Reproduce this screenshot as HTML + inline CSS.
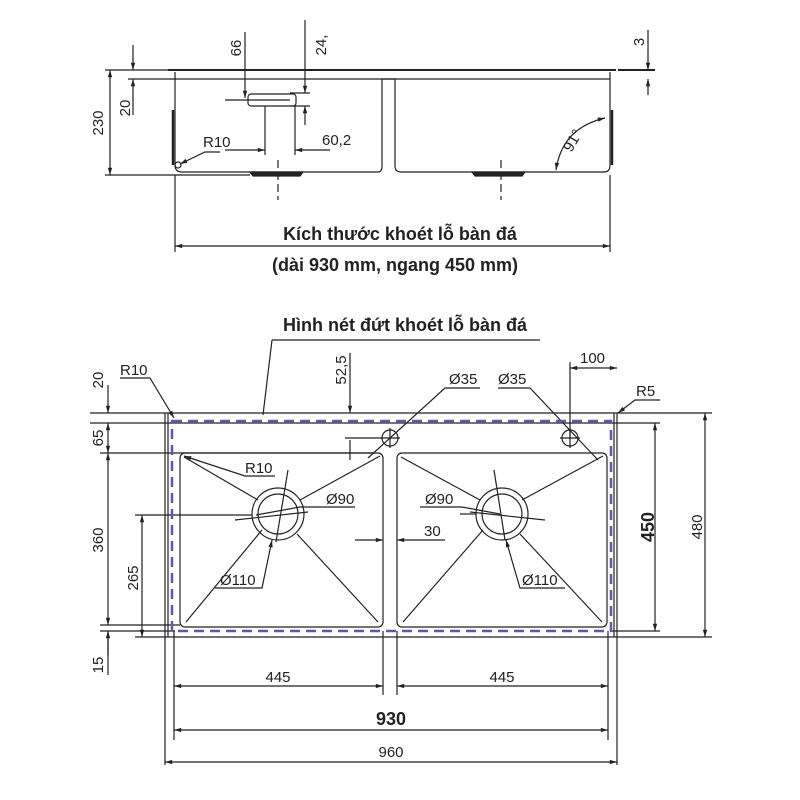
<!DOCTYPE html>
<html><head><meta charset="utf-8"><style>
html,body{margin:0;padding:0;background:#fff;}
svg{display:block;font-family:"Liberation Sans",sans-serif;}
</style></head><body>
<svg width="800" height="800" viewBox="0 0 800 800" xmlns="http://www.w3.org/2000/svg">
<defs>
<marker id="a" viewBox="0 0 10 10" refX="10" refY="5" markerWidth="9" markerHeight="6" orient="auto-start-reverse"><path d="M0,2 L10,5 L0,8 z" fill="#222"/></marker>
</defs>
<g stroke="#222" stroke-width="1.2" fill="none">
<!-- TOP VIEW -->
<line x1="105" y1="70" x2="170" y2="70"/>
<line x1="168" y1="70" x2="616" y2="70" stroke-width="2"/>
<line x1="618" y1="70" x2="655" y2="70" stroke-width="2"/>
<line x1="128" y1="79" x2="610" y2="79"/>
<path d="M175,72 V165 Q175,172 182,172 H378 Q382,172 382,166 V79 H395 V166 Q395,172 401,172 H604 Q610,172 610,165 V72"/>
<line x1="173" y1="110" x2="173" y2="165" stroke-width="2.5"/>
<line x1="612" y1="110" x2="612" y2="165" stroke-width="2.5"/>
<path d="M250,172 L253,176 H300 L303,172 Z" fill="#222"/>
<path d="M472,172 L475,176 H522 L525,172 Z" fill="#222"/>
<line x1="278" y1="160" x2="278" y2="200" stroke-dasharray="8,4"/>
<line x1="501" y1="160" x2="501" y2="200" stroke-dasharray="8,4"/>
<line x1="105" y1="175" x2="250" y2="175"/>
<line x1="110" y1="70" x2="110" y2="175" marker-start="url(#a)" marker-end="url(#a)"/>
<line x1="133" y1="45" x2="133" y2="70" marker-end="url(#a)"/>
<line x1="133" y1="79" x2="133" y2="115" marker-start="url(#a)"/>
<rect x="248" y="94" width="48" height="12" rx="3"/>
<line x1="225" y1="100" x2="290" y2="100"/>
<line x1="265" y1="106" x2="265" y2="155"/>
<line x1="295" y1="106" x2="295" y2="155"/>
<line x1="245" y1="32" x2="245" y2="98" marker-end="url(#a)"/>
<line x1="290" y1="93" x2="310" y2="93"/>
<line x1="290" y1="106" x2="310" y2="106"/>
<line x1="305" y1="20" x2="305" y2="93" marker-end="url(#a)"/>
<line x1="305" y1="125" x2="305" y2="106" marker-end="url(#a)"/>
<line x1="225" y1="150" x2="265" y2="150" marker-end="url(#a)"/>
<line x1="330" y1="150" x2="295" y2="150" marker-end="url(#a)"/>
<path d="M220,152 H205 L180,164" marker-end="url(#a)"/>
<circle cx="178" cy="165" r="3"/>
<line x1="648" y1="30" x2="648" y2="70" marker-end="url(#a)"/>
<line x1="648" y1="95" x2="648" y2="79" marker-end="url(#a)"/>
<path d="M556,170 Q562,128 605,118" marker-start="url(#a)" marker-end="url(#a)"/>
<line x1="175" y1="175" x2="175" y2="252"/>
<line x1="610" y1="175" x2="610" y2="252"/>
<line x1="175" y1="246" x2="610" y2="246" marker-start="url(#a)" marker-end="url(#a)"/>

<!-- BOTTOM VIEW -->
<line x1="272" y1="340" x2="540" y2="340"/>
<line x1="272" y1="340" x2="263" y2="415"/>
<line x1="90" y1="413" x2="712" y2="413"/>
<line x1="90" y1="423" x2="660" y2="423"/>
<line x1="100" y1="453" x2="375" y2="453"/>
<line x1="100" y1="625" x2="180" y2="625"/>
<line x1="100" y1="631" x2="175" y2="631"/>
<line x1="135" y1="637" x2="712" y2="637"/>
<line x1="612" y1="631" x2="660" y2="631"/>
<line x1="165" y1="413" x2="165" y2="765"/>
<line x1="168" y1="413" x2="168" y2="637"/>
<line x1="617" y1="413" x2="617" y2="765"/>
<line x1="614" y1="413" x2="614" y2="637"/>
<line x1="174" y1="631" x2="174" y2="740"/>
<line x1="608" y1="631" x2="608" y2="740"/>
<line x1="383" y1="631" x2="383" y2="695"/>
<line x1="397" y1="631" x2="397" y2="695"/>
<rect x="180" y="453" width="203" height="174" rx="5"/>
<rect x="397" y="453" width="210" height="174" rx="5"/>
<line x1="184" y1="457" x2="258" y2="500"/><line x1="380" y1="456" x2="300" y2="500"/>
<line x1="186" y1="622" x2="262" y2="530"/><line x1="378" y1="622" x2="297" y2="534"/>
<line x1="401" y1="457" x2="480" y2="500"/><line x1="603" y1="456" x2="522" y2="500"/>
<line x1="403" y1="622" x2="483" y2="530"/><line x1="602" y1="622" x2="520" y2="534"/>
<circle cx="278" cy="514" r="26"/><circle cx="278" cy="514" r="20"/>
<circle cx="502" cy="514" r="26"/><circle cx="502" cy="514" r="20"/>
<line x1="235" y1="520" x2="308" y2="512"/><line x1="288" y1="470" x2="276" y2="542"/>
<line x1="470" y1="512" x2="545" y2="520"/><line x1="494" y1="470" x2="505" y2="540"/>
<line x1="135" y1="515" x2="252" y2="515"/>
<line x1="460" y1="514" x2="476" y2="514"/>
<circle cx="390" cy="438" r="8"/><line x1="390" y1="428" x2="390" y2="448"/><line x1="380" y1="438" x2="400" y2="438"/>
<circle cx="570" cy="438" r="8"/><line x1="570" y1="428" x2="570" y2="448"/><line x1="560" y1="438" x2="580" y2="438"/>
<line x1="345" y1="438" x2="382" y2="438"/>
<line x1="350" y1="353" x2="350" y2="413" marker-end="url(#a)"/>
<line x1="350" y1="440" x2="350" y2="460"/>
<path d="M480,388 H445 L368,458"/>
<path d="M498,388 H530 L598,460"/>
<line x1="108" y1="385" x2="108" y2="413" marker-end="url(#a)"/>
<line x1="108" y1="423" x2="108" y2="453" marker-start="url(#a)" marker-end="url(#a)"/>
<line x1="108" y1="453" x2="108" y2="625" marker-start="url(#a)" marker-end="url(#a)"/>
<line x1="108" y1="655" x2="108" y2="631" marker-end="url(#a)"/>
<line x1="108" y1="631" x2="108" y2="675"/>
<line x1="142" y1="515" x2="142" y2="637" marker-start="url(#a)" marker-end="url(#a)"/>
<path d="M120,378 H150 L174,418" marker-end="url(#a)"/>
<path d="M275,476 H245 L184,456" marker-end="url(#a)"/>
<path d="M355,507 H300 L256,515"/>
<path d="M420,507 H462 L500,514"/>
<path d="M215,588 H262 L272,540" marker-end="url(#a)"/>
<path d="M565,588 H520 L506,540" marker-end="url(#a)"/>
<line x1="355" y1="540" x2="383" y2="540" marker-end="url(#a)"/>
<line x1="445" y1="540" x2="397" y2="540" marker-end="url(#a)"/>
<line x1="570" y1="362" x2="570" y2="438"/>
<line x1="570" y1="368" x2="617" y2="368" marker-start="url(#a)" marker-end="url(#a)"/>
<path d="M660,400 H635 L618,413" marker-end="url(#a)"/>
<line x1="655" y1="423" x2="655" y2="631" marker-start="url(#a)" marker-end="url(#a)"/>
<line x1="705" y1="413" x2="705" y2="637" marker-start="url(#a)" marker-end="url(#a)"/>
<line x1="174" y1="686" x2="383" y2="686" marker-start="url(#a)" marker-end="url(#a)"/>
<line x1="397" y1="686" x2="608" y2="686" marker-start="url(#a)" marker-end="url(#a)"/>
<line x1="174" y1="730" x2="608" y2="730" marker-start="url(#a)" marker-end="url(#a)"/>
<line x1="165" y1="762" x2="617" y2="762" marker-start="url(#a)" marker-end="url(#a)"/>
</g>
<rect x="172" y="421" width="439" height="210" fill="none" stroke="#5a5aa8" stroke-width="2.5" stroke-dasharray="10,6"/>
<g fill="#222" font-size="15">
<text x="400" y="240" text-anchor="middle" font-weight="bold" font-size="18">Kích thước khoét lỗ bàn đá</text>
<text x="395" y="271" text-anchor="middle" font-weight="bold" font-size="18">(dài 930 mm, ngang 450 mm)</text>
<text x="405" y="331" text-anchor="middle" font-weight="bold" font-size="18">Hình nét đứt khoét lỗ bàn đá</text>
<text transform="translate(103,123) rotate(-90)" text-anchor="middle">230</text>
<text transform="translate(130,108) rotate(-90)" text-anchor="middle">20</text>
<text transform="translate(241,48) rotate(-90)" text-anchor="middle">66</text>
<text transform="translate(326,45) rotate(-90)" text-anchor="middle">24,</text>
<text transform="translate(644,42) rotate(-90)" text-anchor="middle">3</text>
<text x="203" y="147">R10</text>
<text x="322" y="145">60,2</text>
<text transform="translate(577,143) rotate(-60)" text-anchor="middle">91°</text>
<text transform="translate(103,380) rotate(-90)" text-anchor="middle">20</text>
<text transform="translate(103,438) rotate(-90)" text-anchor="middle">65</text>
<text transform="translate(103,540) rotate(-90)" text-anchor="middle">360</text>
<text transform="translate(138,578) rotate(-90)" text-anchor="middle">265</text>
<text transform="translate(103,665) rotate(-90)" text-anchor="middle">15</text>
<text transform="translate(346,370) rotate(-90)" text-anchor="middle">52,5</text>
<text x="120" y="375">R10</text>
<text x="245" y="473">R10</text>
<text x="326" y="504">Ø90</text>
<text x="425" y="504">Ø90</text>
<text x="220" y="585">Ø110</text>
<text x="522" y="585">Ø110</text>
<text x="424" y="536">30</text>
<text x="449" y="384">Ø35</text>
<text x="498" y="384">Ø35</text>
<text x="580" y="363">100</text>
<text x="636" y="396">R5</text>
<text transform="translate(654,527) rotate(-90)" text-anchor="middle" font-weight="bold" font-size="18">450</text>
<text transform="translate(702,527) rotate(-90)" text-anchor="middle">480</text>
<text x="278" y="682" text-anchor="middle">445</text>
<text x="502" y="682" text-anchor="middle">445</text>
<text x="391" y="725" text-anchor="middle" font-weight="bold" font-size="18">930</text>
<text x="391" y="757" text-anchor="middle">960</text>
</g>
</svg>
</body></html>
